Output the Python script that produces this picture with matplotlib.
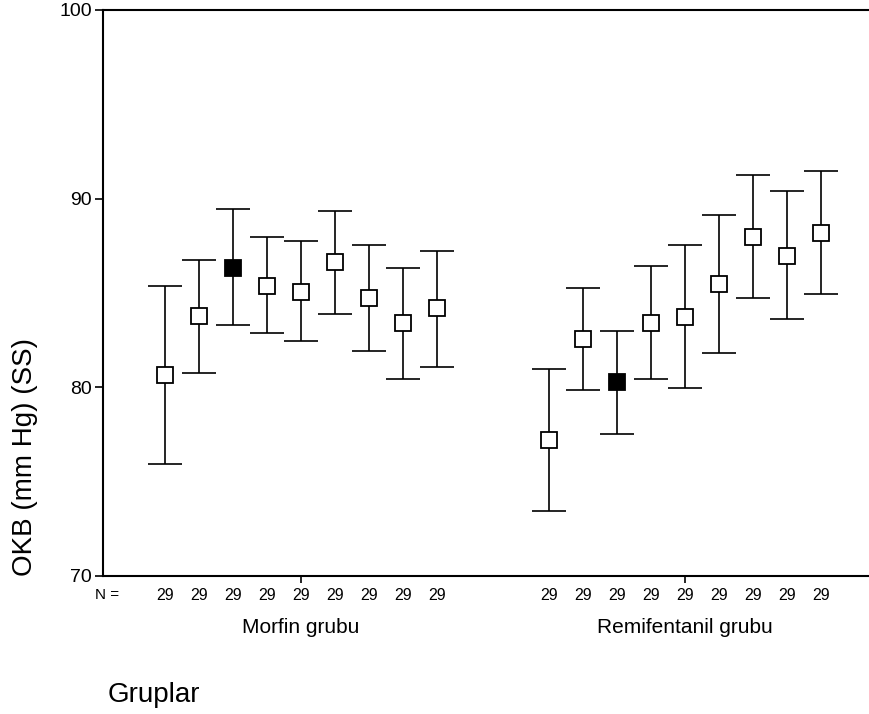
import numpy as np
import matplotlib
matplotlib.use("Agg")
import matplotlib.pyplot as plt

plt.rcParams['font.family'] = ['Liberation Sans', 'DejaVu Sans']

# mean OKB and 95% CI per time point, two groups, n = 29 each
groups = ["Morfin grubu", "Remifentanil grubu"]
n_counts = [29] * 9

morfin_mean = [80.64, 83.79, 86.30, 85.36, 85.05, 86.62, 84.75, 83.38, 84.21]
morfin_upper = [85.36, 86.73, 89.44, 87.97, 87.75, 89.35, 87.56, 86.30, 87.24]
morfin_lower = [75.95, 80.76, 83.28, 82.85, 82.44, 83.90, 81.91, 80.44, 81.06]

remi_mean = [77.22, 82.55, 80.25, 83.38, 83.70, 85.47, 87.98, 86.94, 88.20]
remi_upper = [80.96, 85.27, 82.96, 86.41, 87.56, 89.13, 91.24, 90.39, 91.45]
remi_lower = [73.43, 79.84, 77.52, 80.44, 79.93, 81.82, 84.74, 83.60, 84.96]

# third point of each group is drawn filled
filled_index = 2

fig = plt.figure(figsize=(8.7, 7.14), dpi=100)
ax = fig.add_axes([0.1184, 0.1937, 0.8816, 0.7923])

x_left = np.arange(9)
x_right = np.arange(9) + 11.3
series = [
    (x_left, morfin_mean, morfin_lower, morfin_upper),
    (x_right, remi_mean, remi_lower, remi_upper),
]

for xs, mean, lower, upper in series:
    mean = np.array(mean)
    yerr = [mean - np.array(lower), np.array(upper) - mean]
    ax.errorbar(xs, mean, yerr=yerr, fmt='none', ecolor='black',
                elinewidth=1.2, capsize=12.5, capthick=1.2, zorder=2)
    for i, (x, m) in enumerate(zip(xs, mean)):
        face = 'black' if i == filled_index else 'white'
        ax.plot(x, m, marker='s', markersize=11, markerfacecolor=face,
                markeredgecolor='black', markeredgewidth=1.3, zorder=3)

ax.set_xlim(-1.82, 20.74)
ax.set_ylim(70, 100)
ax.set_yticks([70, 80, 90, 100])
ax.tick_params(axis='y', labelsize=14, length=6, width=1.2, direction='out', pad=2)
ax.set_xticks([x_left[4], x_right[4]])
ax.set_xticklabels([])
ax.tick_params(axis='x', length=5, width=1.2, direction='out')

for side in ['left', 'bottom', 'top']:
    ax.spines[side].set_linewidth(1.5)
ax.spines['right'].set_visible(False)

# N counts under each point
trans = ax.get_xaxis_transform()
for xs in (x_left, x_right):
    for x, n in zip(xs, n_counts):
        ax.text(x, -0.035, str(n), transform=trans, ha='center', va='center',
                fontsize=11.5)
fig.text(0.137, 1 - 595 / 714, "N =", ha='right', va='center', fontsize=11)

# group labels
for xs, name in zip((x_left, x_right), groups):
    ax.text(xs[4], -0.092, name, transform=trans, ha='center', va='center',
            fontsize=15)

fig.text(0.124, 1 - 695 / 714, "Gruplar", ha='left', va='center', fontsize=20)
fig.text(0.0287, 1 - 457 / 714, "OKB (mm Hg) (SS)", rotation=90,
         ha='center', va='center', fontsize=20)

fig.savefig("out.png", dpi=100)
